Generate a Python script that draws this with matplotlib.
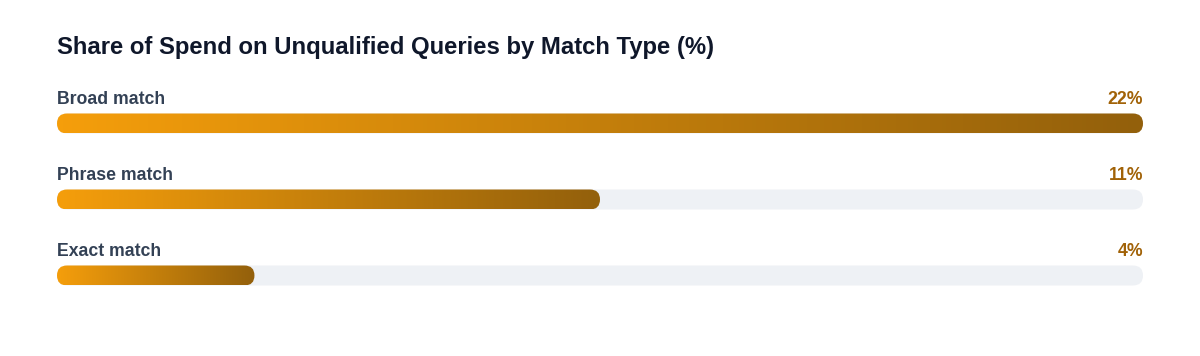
import numpy as np
import matplotlib
matplotlib.use('Agg')
import matplotlib.pyplot as plt
from matplotlib.patches import FancyBboxPatch
from matplotlib.colors import LinearSegmentedColormap

# Chart data
match_types = ['Broad match', 'Phrase match', 'Exact match']
spend_share = [22, 11, 4]
value_labels = ['22%', '11%', '4%']
scale_max = 22

plt.rcParams['font.family'] = ['Liberation Sans', 'DejaVu Sans']

W, H = 1200, 356
fig = plt.figure(figsize=(W / 100, H / 100), dpi=100)
fig.patch.set_facecolor('white')

left_px, right_px = 57, 1143
ax = fig.add_axes([left_px / W, 0, (right_px - left_px) / W, 1])
ax.set_xlim(0, scale_max)
ax.set_ylim(H, 0)  # y in pixel rows
ax.axis('off')

px_per_unit = (right_px - left_px) / scale_max
bar_h = 20
aspect = px_per_unit  # y units per px = 1, x units per px = 1/px_per_unit
radius = (bar_h / 2) / px_per_unit

cmap = LinearSegmentedColormap.from_list('amber', ['#f59e0b', '#93600b'])
grad = np.linspace(0, 1, 256).reshape(1, -1)

first_y, step = 123.5, 76
for i, (name, val, lab) in enumerate(zip(match_types, spend_share, value_labels)):
    yc = first_y + i * step
    # background track
    track = FancyBboxPatch((0, yc - bar_h / 2), scale_max, bar_h,
                           boxstyle=f'round,pad=0,rounding_size={radius}',
                           mutation_aspect=aspect, facecolor='#eef1f5',
                           edgecolor='none')
    ax.add_patch(track)
    # gradient bar, clipped to a pill shape
    pill = FancyBboxPatch((0, yc - bar_h / 2), val, bar_h,
                          boxstyle=f'round,pad=0,rounding_size={radius}',
                          mutation_aspect=aspect, facecolor='none',
                          edgecolor='none')
    ax.add_patch(pill)
    im = ax.imshow(grad, cmap=cmap, aspect='auto',
                   extent=[0, val, yc + bar_h / 2, yc - bar_h / 2],
                   interpolation='bilinear', zorder=2)
    im.set_clip_path(pill)

    ax.text(0, yc - 24, name, fontsize=12.7, fontweight='bold',
            color='#334155', ha='left', va='center')
    ax.text(scale_max, yc - 24, lab, fontsize=12.7, fontweight='bold',
            color='#a16207', ha='right', va='center')

ax.set_xlim(0, scale_max)
ax.set_ylim(H, 0)

fig.text(left_px / W, 1 - 47.5 / H,
         'Share of Spend on Unqualified Queries by Match Type (%)',
         fontsize=17.2, fontweight='bold', color='#0f172a',
         ha='left', va='center')

fig.savefig('out.png', dpi=100, facecolor='white')
